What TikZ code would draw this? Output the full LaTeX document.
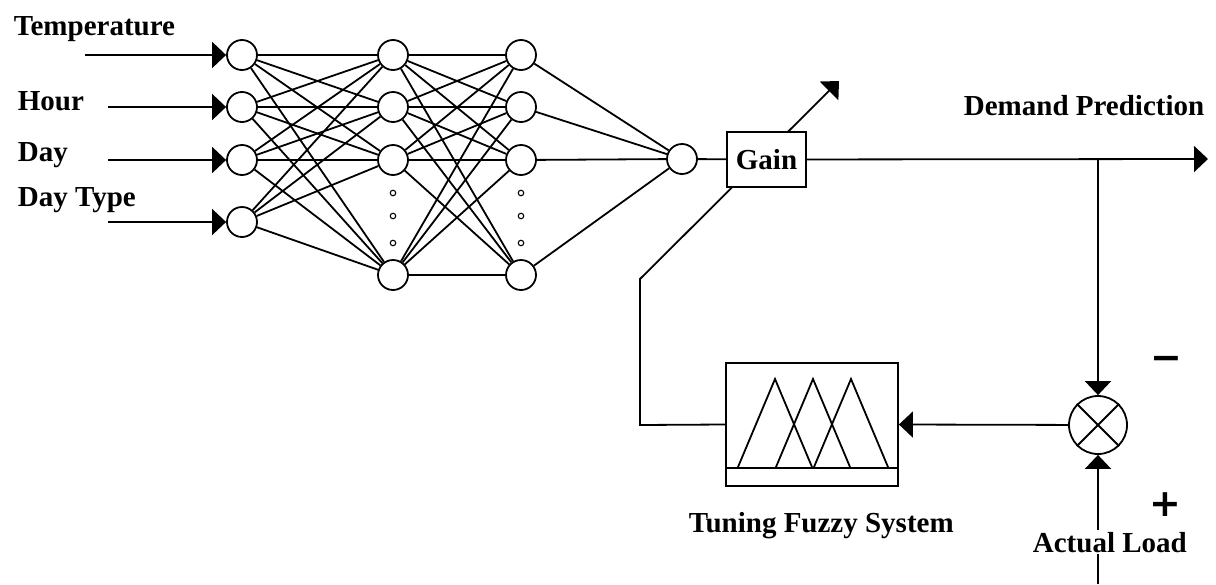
\documentclass[tikz,border=0pt]{standalone}
\usepackage{fontspec}
\setmainfont{Liberation Serif}
\newfontfamily\signfont{DejaVu Sans}
\usetikzlibrary{arrows.meta}
\begin{document}
\begin{tikzpicture}[x=1pt,y=-1pt,line width=1.8pt,
  neuron/.style={circle,draw,fill=white,minimum size=30pt,inner sep=0pt},
  lbl/.style={anchor=base west,inner sep=0pt,font=\fontsize{29}{35}\selectfont\bfseries},
  tip/.style={-{Triangle[length=14pt,width=26pt]}},
  dotc/.style={circle,draw,line width=1.1pt,minimum size=5.5pt,inner sep=0pt},
  signs/.style={inner sep=0pt,font=\signfont\bfseries\fontsize{38}{40}\selectfont}]
\useasboundingbox (0,0) rectangle (1216,584);

% neurons
\node[neuron] (i1) at (242,55) {};
\node[neuron] (i2) at (242,107) {};
\node[neuron] (i3) at (242,160) {};
\node[neuron] (i4) at (242,222) {};
\node[neuron] (a1) at (393,55) {};
\node[neuron] (a2) at (393,107) {};
\node[neuron] (a3) at (393,160) {};
\node[neuron] (a4) at (393,275) {};
\node[neuron] (b1) at (521,55) {};
\node[neuron] (b2) at (521,107) {};
\node[neuron] (b3) at (521,160) {};
\node[neuron] (b4) at (521,275) {};
\node[neuron] (out) at (682,159) {};

\foreach \i in {1,...,4}{
  \foreach \j in {1,...,4}{
    \draw (i\i) -- (a\j);
    \draw (a\i) -- (b\j);
  }
  \draw (b\i) -- (out);
}

% ellipsis dots
\foreach \y [count=\k] in {193,216,243}{
  \node[dotc] (da\k) at (393,\y) {};
  \node[dotc] (db\k) at (521,\y) {};
}

% inputs
\coordinate (s1) at (85,55);
\coordinate (s2) at (108,107);
\coordinate (s3) at (108,160);
\coordinate (s4) at (108,222);
\foreach \i in {1,...,4}{\draw[tip] (s\i) -- (i\i);}
\node[lbl] (lt) at (13,35) {Temperature};
\node[lbl] (lh) at (17,110) {Hour};
\node[lbl] (ld) at (17,161) {Day};
\node[lbl] (ldt) at (17,206) {Day Type};

% feedback through gain (adjustable gain arrow)
\node[draw,minimum width=172pt,minimum height=123pt,inner sep=0pt] (fz) at (812,424.5) {};
\coordinate (c1) at (640,425);
\coordinate (c2) at (640,279);
\coordinate (gt) at (839,81);
\draw[tip] (fz.west) -- (c1) -- (c2) -- (gt);

% gain
\node[draw,fill=white,minimum width=79pt,minimum height=55pt,inner sep=0pt,
      font=\fontsize{29}{35}\selectfont\bfseries] (gain) at (766.5,159.5) {Gain};
\draw (out) -- (gain);

% output
\coordinate (oe) at (1208,159);
\coordinate (br) at (1098,159);
\draw[tip] (gain) -- (oe);
\node[lbl] (ldp) at (963,115) {Demand Prediction};

% summing junction
\node[circle,draw,minimum size=58pt,inner sep=0pt] (sum) at (1098,425) {};
\draw (sum.north east) -- (sum.south west);
\draw (sum.north west) -- (sum.south east);
\draw[tip] (br) -- (sum);
\coordinate (al) at (1098,584);
\draw[tip] (al) -- (sum);
\draw[tip] (sum) -- (fz.east);
\node[lbl,fill=white,inner ysep=2pt] (lal) at (1032,552) {Actual Load};
\node[signs] (minus) at (1166,363) {−};
\node[signs] (plus) at (1165,505) {+};

% fuzzy system interior
\draw ([yshift=19pt]fz.south west) -- ([yshift=19pt]fz.south east);
\draw[line join=miter] (738,467) -- (775,379) -- (812,467)
      (776,467) -- (813,379) -- (850,467)
      (814,467) -- (851,379) -- (888,467);
\node[anchor=base west,inner sep=0pt,font=\fontsize{29}{35}\selectfont\bfseries] (ltf) at (688,532) {Tuning Fuzzy System};
\end{tikzpicture}
\end{document}
